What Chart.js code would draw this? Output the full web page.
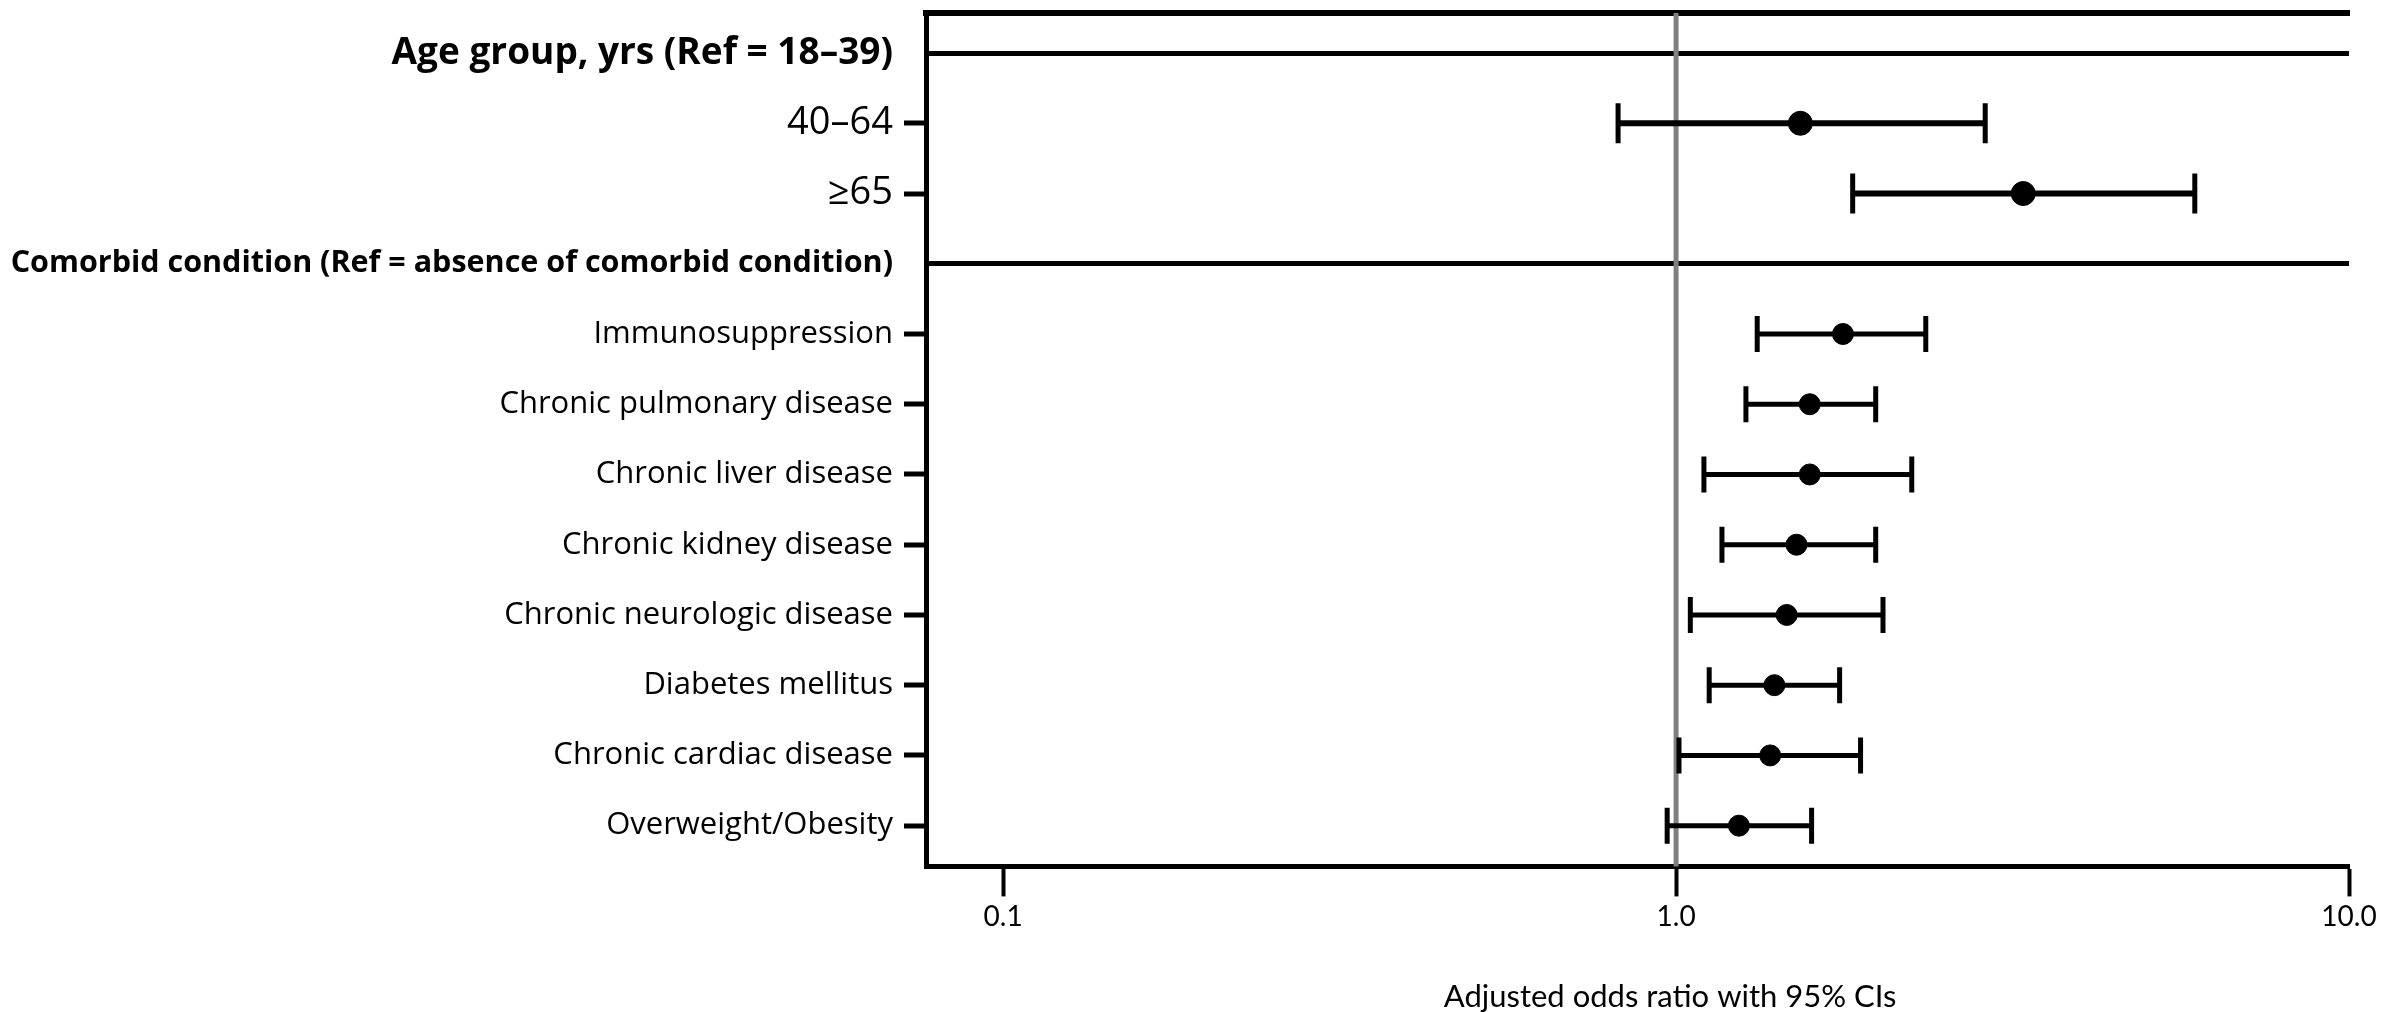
<!DOCTYPE html>
<html>
<head>
<meta charset="utf-8">
<script src="https://cdn.jsdelivr.net/npm/chart.js@4.4.1/dist/chart.umd.min.js"></script>
<style>
  html, body { margin: 0; padding: 0; background: #fff; }
  #wrap { width: 2399px; height: 1012px; position: relative; }
</style>
</head>
<body>
<div id="wrap"><canvas id="forest"></canvas></div>
<script>
const rowLabels = [
  'Age group, yrs (Ref = 18–39)',
  '40–64',
  '≥65',
  'Comorbid condition (Ref = absence of comorbid condition)',
  'Immunosuppression',
  'Chronic pulmonary disease',
  'Chronic liver disease',
  'Chronic kidney disease',
  'Chronic neurologic disease',
  'Diabetes mellitus',
  'Chronic cardiac disease',
  'Overweight/Obesity'
];
const headerRows = [0, 3];
const oddsRatio = [null, 1.53, 3.28, null, 1.77, 1.58, 1.58, 1.51, 1.46, 1.40, 1.38, 1.24];
const ciLower   = [null, 0.82, 1.83, null, 1.32, 1.27, 1.10, 1.17, 1.05, 1.12, 1.01, 0.97];
const ciUpper   = [null, 2.88, 5.90, null, 2.35, 1.98, 2.24, 1.98, 2.03, 1.75, 1.88, 1.59];
const xTicks = [0.1, 1, 10];
const xTitle = 'Adjusted odds ratio with 95% CIs';

const isHeader = i => headerRows.includes(i);
const inAgeGroup = i => i < headerRows[1];

// reference line at OR = 1, CI whiskers, and the axis title centred under OR = 1
const ciWhiskers = {
  id: 'ciWhiskers',
  beforeDatasetsDraw(chart) {
    const { ctx, chartArea, scales: { x, y } } = chart;
    ctx.save();
    const xRef = x.getPixelForValue(1);
    ctx.strokeStyle = '#808080';
    ctx.lineWidth = 5;
    ctx.beginPath();
    ctx.moveTo(xRef, chartArea.top);
    ctx.lineTo(xRef, chartArea.bottom);
    ctx.stroke();

    ctx.strokeStyle = '#000';
    ciLower.forEach((lo, i) => {
      if (lo == null) return;
      const yy = y.getPixelForValue(i);
      const x1 = x.getPixelForValue(lo);
      const x2 = x.getPixelForValue(ciUpper[i]);
      const cap = inAgeGroup(i) ? 20 : 18;
      ctx.lineWidth = inAgeGroup(i) ? 6 : 5;
      ctx.beginPath();
      ctx.moveTo(x1, yy);
      ctx.lineTo(x2, yy);
      ctx.stroke();
      ctx.lineWidth = 5;
      ctx.beginPath();
      ctx.moveTo(x1, yy - cap);
      ctx.lineTo(x1, yy + cap);
      ctx.moveTo(x2, yy - cap);
      ctx.lineTo(x2, yy + cap);
      ctx.stroke();
    });
    ctx.restore();
  },
  afterDraw(chart) {
    const { ctx, scales: { x } } = chart;
    ctx.save();
    ctx.fillStyle = '#000';
    ctx.font = '31px Lato';
    ctx.textAlign = 'center';
    ctx.textBaseline = 'alphabetic';
    ctx.fillText(xTitle, x.getPixelForValue(1) - 6, 1007);
    ctx.restore();
  }
};

const points = [];
oddsRatio.forEach((v, i) => {
  if (v != null) points.push({ x: v, y: i });
});

const labelFont = (ctx) => {
  const i = ctx.index;
  if (i === 0) return { family: 'Open Sans', size: 37, weight: 'bold' };
  if (isHeader(i)) return { family: 'Open Sans', size: 30.5, weight: 'bold' };
  if (inAgeGroup(i)) return { family: 'Open Sans', size: 38 };
  return { family: 'Open Sans', size: 31 };
};

new Chart(document.getElementById('forest'), {
  type: 'scatter',
  data: {
    datasets: [{
      data: points,
      backgroundColor: '#000',
      borderColor: '#000',
      pointRadius: ctx => inAgeGroup(ctx.raw ? ctx.raw.y : 0) ? 12 : 10.5,
      pointHoverRadius: ctx => inAgeGroup(ctx.raw ? ctx.raw.y : 0) ? 12 : 10.5
    }]
  },
  options: {
    responsive: true,
    maintainAspectRatio: false,
    animation: false,
    devicePixelRatio: 1,
    layout: { padding: { top: 12, right: 50, bottom: 74, left: 0 } },
    plugins: {
      legend: { display: false },
      tooltip: { enabled: false }
    },
    scales: {
      x: {
        type: 'logarithmic',
        position: 'bottom',
        min: 0.0768,
        max: 10,
        afterBuildTicks: scale => { scale.ticks = xTicks.map(v => ({ value: v })); },
        ticks: {
          color: '#000',
          font: { family: 'Lato', size: 28 },
          padding: 4,
          maxRotation: 0,
          callback: v => Number(v).toFixed(1)
        },
        grid: {
          drawOnChartArea: false,
          drawTicks: true,
          tickLength: 30,
          tickWidth: 4,
          tickColor: '#000'
        },
        border: { display: true, color: '#000', width: 5 }
      },
      xTop: {
        type: 'logarithmic',
        position: 'top',
        min: 0.0768,
        max: 10,
        ticks: { display: false },
        grid: { drawOnChartArea: false, drawTicks: false },
        border: { display: true, color: '#000', width: 6 }
      },
      y: {
        type: 'linear',
        reverse: true,
        min: -0.57,
        max: 11.58,
        afterBuildTicks: scale => { scale.ticks = rowLabels.map((_, i) => ({ value: i })); },
        afterFit: scale => {
          scale.width = 926;
          scale.paddingTop = 0;
          scale.paddingBottom = 0;
        },
        ticks: {
          color: '#000',
          padding: 11,
          font: labelFont,
          callback: v => rowLabels[v]
        },
        grid: {
          drawOnChartArea: true,
          tickLength: 22,
          color: ctx => isHeader(ctx.index) ? '#000' : 'rgba(0,0,0,0)',
          lineWidth: ctx => isHeader(ctx.index) ? 5 : 0,
          tickColor: ctx => isHeader(ctx.index) ? 'rgba(0,0,0,0)' : '#000',
          tickWidth: 5
        },
        border: { display: true, color: '#000', width: 5 }
      }
    }
  },
  plugins: [ciWhiskers]
});
</script>
</body>
</html>
